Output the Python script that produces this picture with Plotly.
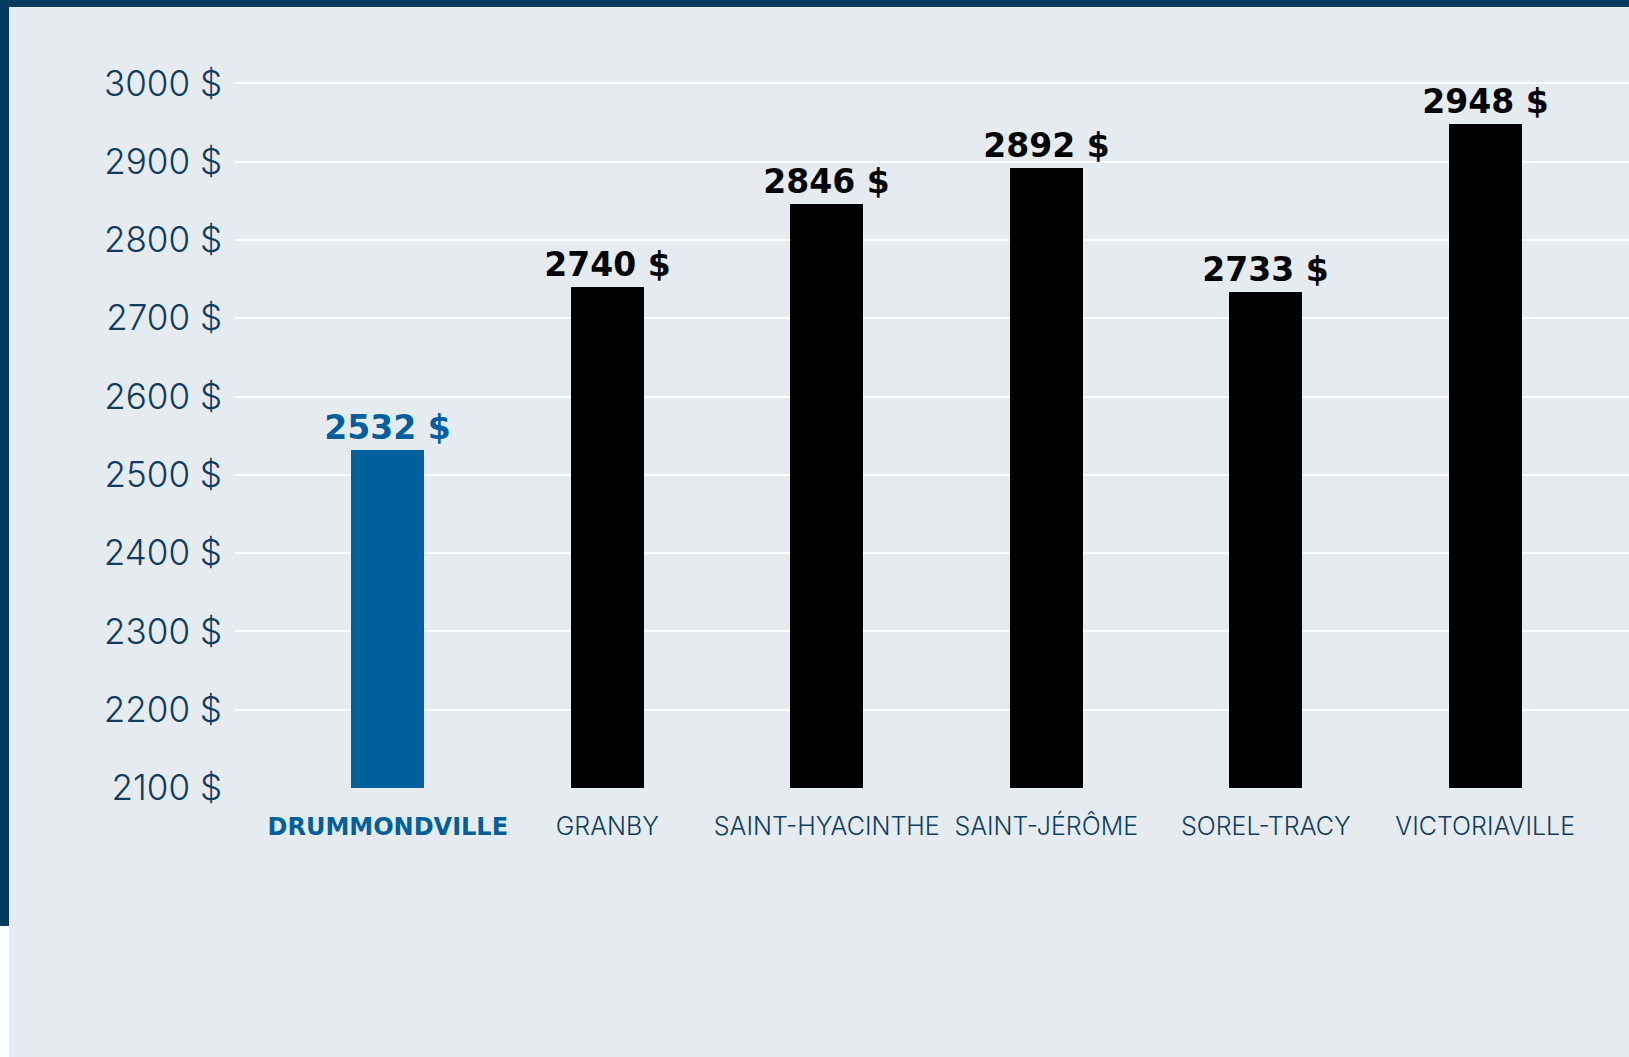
import plotly.graph_objects as go

# ---- data ----
cities = ["DRUMMONDVILLE", "GRANBY", "SAINT-HYACINTHE", "SAINT-JÉRÔME", "SOREL-TRACY", "VICTORIAVILLE"]
loyers = [2532, 2740, 2846, 2892, 2733, 2948]
y_ticks = [2100, 2200, 2300, 2400, 2500, 2600, 2700, 2800, 2900, 3000]
highlight = "DRUMMONDVILLE"

# ---- styles ----
W, H = 1629, 1057
BG = "#e6ebf0"
NAVY = "#003a5d"
BLUE = "#00609d"
TICK = "#0f3d62"
FONT = "Inter"

bar_colors = [BLUE if c == highlight else "#000000" for c in cities]
ticktext = [
    f"<span style='color:{BLUE};font-family:DejaVu Sans;font-weight:bold;font-size:24px'>{c}</span>"
    if c == highlight else c
    for c in cities
]

fig = go.Figure()
fig.add_trace(go.Bar(
    x=cities, y=loyers,
    marker=dict(color=bar_colors, line=dict(width=0)),
    width=0.333,
    texttemplate="%{y:d} $",
    textposition="outside",
    constraintext="none",
    cliponaxis=False,
    textfont=dict(family="DejaVu Sans", size=33, color=bar_colors, weight="bold"),
    hoverinfo="skip",
))

fig.update_layout(
    width=W, height=H,
    autosize=False,
    margin=dict(l=0, r=0, t=0, b=0, pad=0, autoexpand=False),
    paper_bgcolor=BG, plot_bgcolor=BG,
    showlegend=False,
    bargap=0,
    xaxis=dict(
        domain=[235 / W, 1],
        range=[-0.696, 5.655],
        automargin=False,
        tickmode="array", tickvals=cities, ticktext=ticktext,
        showgrid=False, zeroline=False, showline=False, ticks="",
        tickfont=dict(family=FONT, size=25, color=TICK, weight=300),
        ticklabelstandoff=21,
    ),
    yaxis=dict(
        domain=[(H - 788) / H, (H - 5) / H],
        range=[2100, 3100],
        automargin=False,
        tickmode="array", tickvals=y_ticks,
        ticktext=[f"{v} $" for v in y_ticks],
        showgrid=True, gridcolor="#ffffff", gridwidth=1.5,
        zeroline=False, showline=False, ticks="",
        tickfont=dict(family=FONT, size=35, color=TICK, weight=300),
        ticklabelstandoff=12,
    ),
    shapes=[
        dict(type="rect", xref="paper", yref="paper", x0=0, x1=1, y0=1 - 7 / H, y1=1,
             fillcolor=NAVY, line=dict(width=0), layer="above"),
        dict(type="rect", xref="paper", yref="paper", x0=0, x1=9 / W, y0=(H - 926) / H, y1=1,
             fillcolor=NAVY, line=dict(width=0), layer="above"),
        dict(type="rect", xref="paper", yref="paper", x0=0, x1=9 / W, y0=0, y1=(H - 926) / H,
             fillcolor="#ffffff", line=dict(width=0), layer="above"),
    ],
)

fig.write_html(
    "out.html",
    config={"displayModeBar": False},
    post_script="document.body.style.margin='0';document.body.style.overflow='hidden';",
)
